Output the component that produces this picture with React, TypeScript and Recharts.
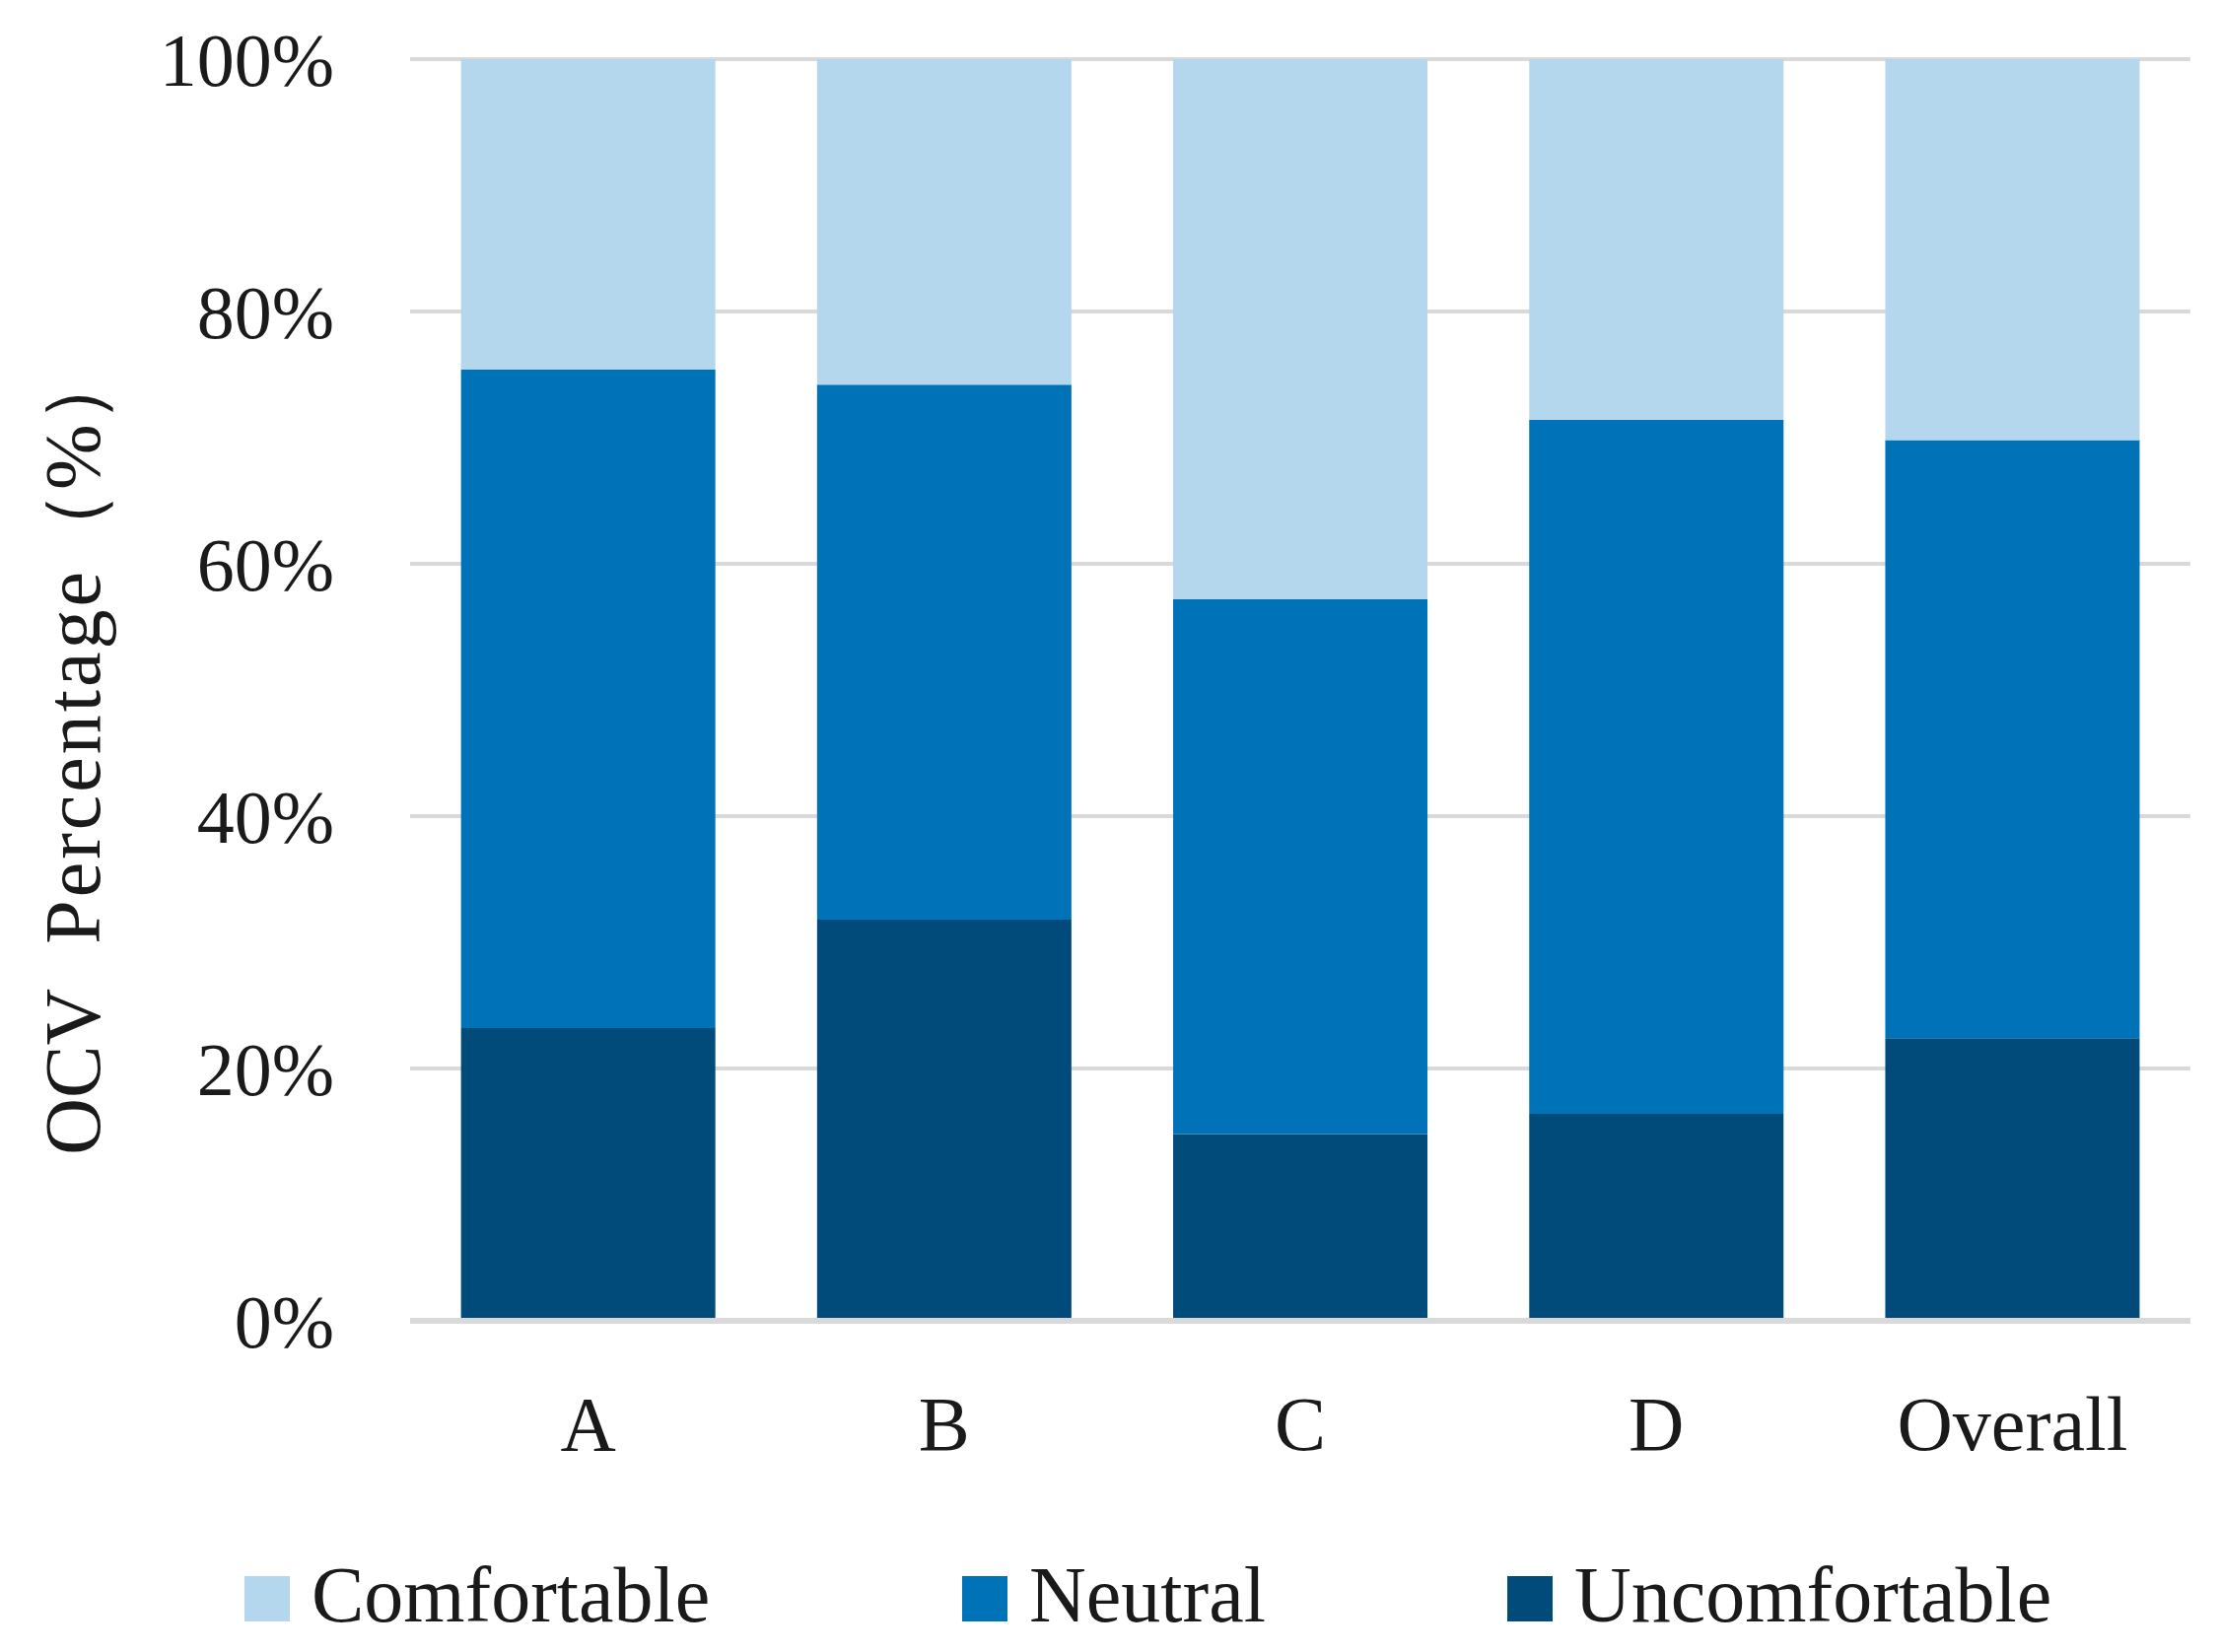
import React from 'react';
import { BarChart, Bar, XAxis, YAxis, CartesianGrid, Legend, Label } from 'recharts';

const groups = ['A', 'B', 'C', 'D', 'Overall'];
const uncomfortable = [23.2, 31.8, 14.8, 16.4, 22.4];
const neutral = [52.2, 42.4, 42.4, 55.0, 47.4];
const comfortable = [24.6, 25.8, 42.8, 28.6, 30.2];
const yTicks = [0, 20, 40, 60, 80, 100];

const series = [
  { key: 'Comfortable', color: '#b4d7ee' },
  { key: 'Neutral', color: '#0072b8' },
  { key: 'Uncomfortable', color: '#004b7a' },
];

const data = groups.map((g, i) => ({
  name: g,
  Uncomfortable: uncomfortable[i],
  Neutral: neutral[i],
  Comfortable: comfortable[i],
}));

const FONT = '"Liberation Serif", "Times New Roman", serif';
const INK = '#1a1a1a';

const YLabel = (props: any) => {
  const vb = props.viewBox || {};
  const cx = vb.x + 66;
  const cy = 753;
  return (
    <text
      x={cx}
      y={cy}
      transform={`rotate(-90, ${cx}, ${cy})`}
      textAnchor="middle"
      dominantBaseline="central"
      fill={INK}
      fontFamily={FONT}
      fontSize={80}
    >
      <tspan>OCV</tspan>
      <tspan dx={22} letterSpacing={3}> Percentage</tspan>
      <tspan>（%）</tspan>
    </text>
  );
};

const LegendBox = () => (
  <div style={{ height: 140, position: 'relative', fontFamily: FONT, fontSize: 80, color: INK }}>
    {series.map((s, i) => (
      <div
        key={s.key}
        style={{
          position: 'absolute',
          left: [240, 968, 1521][i],
          top: 50,
          display: 'flex',
          alignItems: 'center',
          height: 80,
          whiteSpace: 'nowrap',
        }}
      >
        <span style={{ display: 'inline-block', width: 46, height: 46, background: s.color, marginRight: 22, marginTop: 8 }} />
        <span>{s.key}</span>
      </div>
    ))}
  </div>
);

export default function App() {
  return (
    <div style={{ width: 2244, height: 1660, background: '#fff' }}>
      <BarChart
        width={2244}
        height={1660}
        data={data}
        margin={{ top: 52, right: 30, bottom: 0, left: 0 }}
        barCategoryGap="14.3%"
      >
        <CartesianGrid vertical={false} stroke="#d9d9d9" strokeWidth={4} />
        <XAxis
          dataKey="name"
          height={188}
          tickLine={false}
          tickSize={0}
          tickMargin={76}
          axisLine={{ stroke: '#d9d9d9', strokeWidth: 6 }}
          tick={{ fill: INK, fontFamily: FONT, fontSize: 78 }}
        />
        <YAxis
          width={408}
          domain={[0, 100]}
          ticks={yTicks}
          tickFormatter={(v: number) => `${v}%`}
          axisLine={false}
          tickLine={false}
          tickSize={0}
          tickMargin={77}
          tick={{ fill: INK, fontFamily: FONT, fontSize: 76 }}
        >
          <Label content={<YLabel />} />
        </YAxis>
        <Legend verticalAlign="bottom" content={<LegendBox />} />
        <Bar dataKey="Uncomfortable" stackId="s" fill="#004b7a" isAnimationActive={false} />
        <Bar dataKey="Neutral" stackId="s" fill="#0072b8" isAnimationActive={false} />
        <Bar dataKey="Comfortable" stackId="s" fill="#b4d7ee" isAnimationActive={false} />
      </BarChart>
    </div>
  );
}
